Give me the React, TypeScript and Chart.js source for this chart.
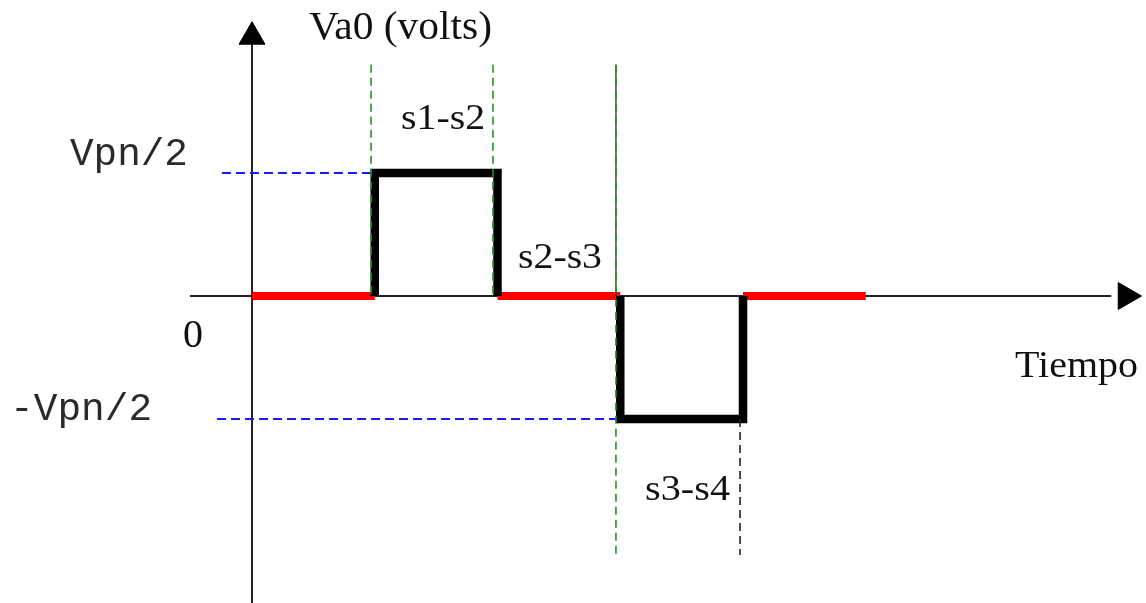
import React, { useEffect, useRef } from "react";
import { Chart, registerables } from "chart.js";

Chart.register(...registerables);

// ---- Data (time units, voltage in units of Vpn/2) ----
const ZERO_SEGMENTS: number[][] = [
  [0, 1],
  [2, 3],
  [4, 5],
];
const POS_PULSE_T = [1, 1, 2, 2];
const POS_PULSE_V = [0, 1, 1, 0];
const NEG_PULSE_T = [3, 3, 4, 4];
const NEG_PULSE_V = [0, -1, -1, 0];
const LEVEL_VALUES = [1, -1];
const LEVEL_LABELS = ["Vpn/2", "-Vpn/2"];
const LEVEL_GUIDE_START = [-0.245, -0.285];
const LEVEL_GUIDE_END = [0.97, 2.965];
const SWITCH_GUIDE_T = [0.97, 1.963, 2.965];
const SWITCH_GUIDE_TOP = 1.88;
const SWITCH_GUIDE_BOTTOM = -2.106;
const END_GUIDE_T = 3.976;
const SWITCH_LABELS = ["s1-s2", "s2-s3", "s3-s4"];
const AXIS_TITLE_Y = "Va0 (volts)";
const AXIS_TITLE_X = "Tiempo";
const ORIGIN_LABEL = "0";

const X_MIN = -2.053;
const X_MAX = 7.2831;
const Y_MIN = -2.4959;
const Y_MAX = 2.4065;

const SERIF = '"Liberation Serif", "Times New Roman", serif';
const MONO = '"Courier New", "Liberation Mono", monospace';

type Lbl = { text: string; t: number; v: number; font: string; size: number; width: number; color: string };

const labels: Lbl[] = [
  { text: AXIS_TITLE_Y, t: 0.464, v: 2.089, font: SERIF, size: 40, width: 183, color: "#111" },
  { text: SWITCH_LABELS[0], t: 1.214, v: 1.358, font: SERIF, size: 36, width: 84, color: "#111" },
  { text: SWITCH_LABELS[1], t: 2.167, v: 0.228, font: SERIF, size: 36, width: 84, color: "#111" },
  { text: SWITCH_LABELS[2], t: 3.202, v: -1.659, font: SERIF, size: 36, width: 85, color: "#111" },
  { text: LEVEL_LABELS[0], t: -1.483, v: 1.065, font: MONO, size: 38, width: 118, color: "#2a2a2a" },
  { text: LEVEL_LABELS[1], t: -1.971, v: -1.008, font: MONO, size: 38, width: 142, color: "#2a2a2a" },
  { text: ORIGIN_LABEL, t: -0.562, v: -0.415, font: SERIF, size: 39, width: 20, color: "#111" },
  { text: AXIS_TITLE_X, t: 6.216, v: -0.659, font: SERIF, size: 38, width: 123, color: "#111" },
];

const textPlugin = {
  id: "diagramText",
  afterDatasetsDraw(chart: any) {
    const ctx = chart.ctx as CanvasRenderingContext2D;
    const xs = chart.scales.x;
    const ys = chart.scales.y;
    ctx.save();
    ctx.textBaseline = "alphabetic";
    ctx.textAlign = "left";
    for (const l of labels) {
      ctx.font = `${l.size}px ${l.font}`;
      ctx.fillStyle = l.color;
      const w = ctx.measureText(l.text).width;
      const sx = w > 0 ? l.width / w : 1;
      const px = xs.getPixelForValue(l.t);
      const py = ys.getPixelForValue(l.v);
      ctx.save();
      ctx.translate(px, py);
      ctx.scale(sx, 1);
      ctx.fillText(l.text, 0, 0);
      ctx.restore();
    }
    ctx.restore();
  },
};

function seg(data: { x: number; y: number }[], color: string, width: number, order: number, dash: number[] = []) {
  return {
    data,
    borderColor: color,
    borderWidth: width,
    borderDash: dash,
    borderCapStyle: "butt",
    borderJoinStyle: "miter",
    pointRadius: 0,
    showLine: true,
    fill: false,
    tension: 0,
    order,
  };
}

export default function App() {
  const ref = useRef<HTMLCanvasElement | null>(null);

  useEffect(() => {
    if (!ref.current) return;
    const GREEN = "#1c961c";
    const BLUE = "#1a1aff";
    const datasets: any[] = [];

    // axes
    datasets.push(seg([{ x: 0, y: Y_MIN }, { x: 0, y: 2.05 }], "#222", 2, 9));
    datasets.push(seg([{ x: -0.505, y: 0 }, { x: 7.0, y: 0 }], "#222", 2, 9));

    // level guides (blue dashed)
    LEVEL_VALUES.forEach((v, i) => {
      datasets.push(
        seg([{ x: LEVEL_GUIDE_START[i], y: v }, { x: LEVEL_GUIDE_END[i], y: v }], BLUE, 2, 8, [9, 5])
      );
    });

    // zero segments (red)
    ZERO_SEGMENTS.forEach((s) => {
      datasets.push(seg([{ x: s[0], y: 0 }, { x: s[1], y: 0 }], "#ff0000", 8, 6));
    });

    // pulses (black)
    datasets.push(seg(POS_PULSE_T.map((t, i) => ({ x: t, y: POS_PULSE_V[i] })), "#000", 8.5, 5));
    datasets.push(seg(NEG_PULSE_T.map((t, i) => ({ x: t, y: NEG_PULSE_V[i] })), "#000", 8.5, 5));

    // solid thin line at third switching instant
    datasets.push(seg([{ x: SWITCH_GUIDE_T[2], y: SWITCH_GUIDE_TOP }, { x: SWITCH_GUIDE_T[2], y: 0 }], "#222", 1.2, 4));

    // green dashed switching guides
    datasets.push(seg([{ x: SWITCH_GUIDE_T[0], y: SWITCH_GUIDE_TOP }, { x: SWITCH_GUIDE_T[0], y: 0 }], GREEN, 1.6, 2, [8, 5]));
    datasets.push(seg([{ x: SWITCH_GUIDE_T[1], y: SWITCH_GUIDE_TOP }, { x: SWITCH_GUIDE_T[1], y: 0 }], GREEN, 1.6, 2, [8, 5]));
    datasets.push(seg([{ x: SWITCH_GUIDE_T[2], y: SWITCH_GUIDE_TOP }, { x: SWITCH_GUIDE_T[2], y: SWITCH_GUIDE_BOTTOM }], GREEN, 1.6, 2, [8, 5]));

    // black dashed end guide
    datasets.push(seg([{ x: END_GUIDE_T, y: -1 }, { x: END_GUIDE_T, y: SWITCH_GUIDE_BOTTOM }], "#222", 1.6, 2, [8, 5]));

    // arrow heads
    datasets.push({
      data: [{ x: 0, y: 2.108 }],
      showLine: false,
      pointStyle: "triangle",
      pointRadius: 15,
      pointRotation: 0,
      pointBackgroundColor: "#000",
      pointBorderColor: "#000",
      pointBorderWidth: 1,
      order: 0,
    });
    datasets.push({
      data: [{ x: 7.12, y: 0 }],
      showLine: false,
      pointStyle: "triangle",
      pointRadius: 15.5,
      pointRotation: 90,
      pointBackgroundColor: "#000",
      pointBorderColor: "#000",
      pointBorderWidth: 1,
      order: 0,
    });

    const chart = new Chart(ref.current, {
      type: "scatter",
      data: { datasets },
      options: {
        animation: false,
        responsive: true,
        maintainAspectRatio: false,
        devicePixelRatio: 1,
        events: [],
        layout: { padding: 0, autoPadding: false },
        plugins: { legend: { display: false }, tooltip: { enabled: false } },
        scales: {
          x: { type: "linear", min: X_MIN, max: X_MAX, display: false },
          y: { type: "linear", min: Y_MIN, max: Y_MAX, display: false },
        },
      } as any,
      plugins: [textPlugin],
    } as any);
    return () => chart.destroy();
  }, []);

  return (
    <div style={{ position: "absolute", left: 0, top: 0, width: 1146, height: 603, background: "#fff" }}>
      <canvas ref={ref} />
    </div>
  );
}
